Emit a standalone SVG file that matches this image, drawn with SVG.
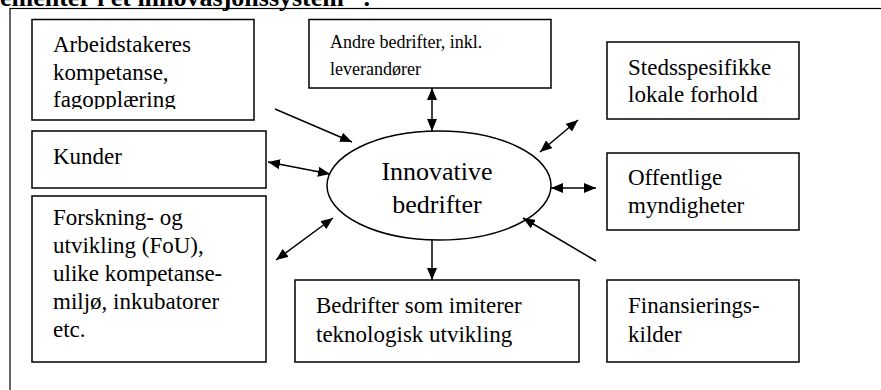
<svg xmlns="http://www.w3.org/2000/svg" width="881" height="390" viewBox="0 0 881 390">
<defs>
<style>
.box{fill:#fff;stroke:#000;stroke-width:1.5}
text{font-family:'Liberation Serif','DejaVu Serif',serif;fill:#000}
.t{font-size:23px}
.ts{font-size:18px}
.tc{font-size:26px;text-anchor:middle}
.c{fill:none;stroke:#000;stroke-width:1.5}
</style>
<marker id="ah" viewBox="0 0 12 10" refX="12" refY="5" markerWidth="12" markerHeight="10" markerUnits="userSpaceOnUse" orient="auto-start-reverse">
<path d="M0,0 L12,5 L0,10 z" fill="#000"/>
</marker>
<clipPath id="clipA"><rect x="32" y="19" width="222" height="90"/></clipPath>
</defs>
<rect width="881" height="390" fill="#fff"/>
<text x="0" y="5.5" font-size="26" font-weight="bold">ementer i et innovasjonssystem” .</text>
<rect x="10" y="8.5" width="900" height="400" fill="none" stroke="#000" stroke-width="1.2"/>

<g id="arbeidstakeres">
<rect class="box" x="32" y="19.5" width="222" height="100.5"/>
<g clip-path="url(#clipA)">
<text class="t" x="53" y="52">Arbeidstakeres</text>
<text class="t" x="53" y="80">kompetanse,</text>
<text class="t" x="53" y="107">fagopplæring</text>
</g>
</g>
<g id="kunder">
<rect class="box" x="32" y="131" width="234" height="57"/>
<text class="t" x="53" y="164">Kunder</text>
</g>
<g id="forskning">
<rect class="box" x="32" y="196" width="234" height="166"/>
<text class="t" x="53" y="225">Forskning- og</text>
<text class="t" x="53" y="253">utvikling (FoU),</text>
<text class="t" x="53" y="281">ulike kompetanse-</text>
<text class="t" x="53" y="309">miljø, inkubatorer</text>
<text class="t" x="53" y="337">etc.</text>
</g>
<g id="andre">
<rect class="box" x="309" y="19.5" width="242" height="68.5"/>
<text class="ts" x="330" y="48">Andre bedrifter, inkl.</text>
<text class="ts" x="330" y="75">leverandører</text>
</g>
<g id="stedsspesifikke">
<rect class="box" x="607" y="42" width="192" height="77"/>
<text class="t" x="628" y="75">Stedsspesifikke</text>
<text class="t" x="628" y="102">lokale forhold</text>
</g>
<g id="offentlige">
<rect class="box" x="607" y="153" width="192" height="77"/>
<text class="t" x="628" y="185">Offentlige</text>
<text class="t" x="628" y="213">myndigheter</text>
</g>
<g id="finansiering">
<rect class="box" x="607" y="280" width="192" height="82"/>
<text class="t" x="628" y="313">Finansierings-</text>
<text class="t" x="628" y="342">kilder</text>
</g>
<g id="imiterer">
<rect class="box" x="295" y="280" width="284" height="82"/>
<text class="t" x="316" y="313">Bedrifter som imiterer</text>
<text class="t" x="316" y="342">teknologisk utvikling</text>
</g>
<g id="innovative">
<ellipse class="box" cx="439" cy="185.5" rx="112" ry="54.5"/>
<text class="tc" x="437" y="180">Innovative</text>
<text class="tc" x="437" y="213">bedrifter</text>
</g>

<g id="connectors">
<line class="c" x1="432" y1="88" x2="432" y2="131" marker-start="url(#ah)" marker-end="url(#ah)"/>
<line class="c" x1="275" y1="109" x2="352" y2="142" marker-end="url(#ah)"/>
<line class="c" x1="268" y1="162" x2="330" y2="174" marker-start="url(#ah)" marker-end="url(#ah)"/>
<line class="c" x1="276" y1="260" x2="333" y2="218" marker-start="url(#ah)" marker-end="url(#ah)"/>
<line class="c" x1="432" y1="240" x2="432" y2="280" marker-end="url(#ah)"/>
<line class="c" x1="540" y1="152" x2="578" y2="120" marker-start="url(#ah)" marker-end="url(#ah)"/>
<line class="c" x1="551" y1="188" x2="596" y2="188" marker-start="url(#ah)" marker-end="url(#ah)"/>
<line class="c" x1="596" y1="261" x2="523" y2="218" marker-end="url(#ah)"/>
</g>
</svg>
